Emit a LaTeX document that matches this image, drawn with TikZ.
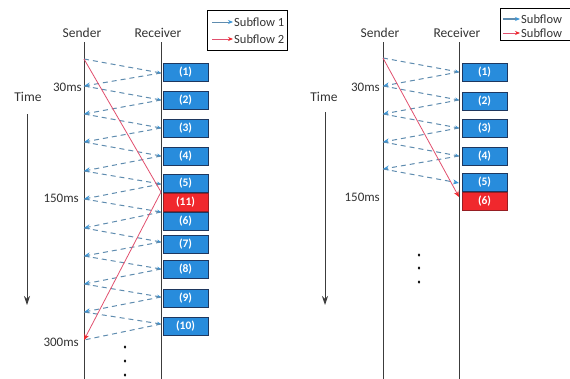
\documentclass[tikz,border=0pt]{standalone}
\usepackage{fontspec}
\setmainfont{Carlito}
\usetikzlibrary{arrows.meta}
\definecolor{flowblue}{RGB}{95,140,175}
\definecolor{tipblue}{RGB}{60,150,215}
\definecolor{boxblue}{RGB}{40,140,220}
\definecolor{boxedge}{RGB}{30,55,95}
\definecolor{boxred}{RGB}{240,40,45}
\definecolor{edgered}{RGB}{150,30,35}
\definecolor{flowred}{RGB}{225,80,110}
\definecolor{axisgray}{RGB}{60,60,60}
\tikzset{
  lifeline/.style={draw=axisgray, line width=0.9pt},
  ackflow/.style={draw=flowblue, line width=1pt, dash pattern=on 5pt off 4pt,
     -{Stealth[length=6pt,width=5pt,color=tipblue]}},
  dataflow/.style={draw=flowblue, line width=1pt, dash pattern=on 5pt off 4pt,
     -{Stealth[length=4pt,width=3.5pt,color=tipblue]}},
  redflow/.style={draw=flowred, line width=0.8pt},
  redarrow/.style={draw=flowred, line width=0.8pt, -{Stealth[length=6pt,width=5pt,color=boxred]}},
  pktbox/.style={draw=boxedge, line width=0.9pt, fill=boxblue, text=white, font=\fontsize{11.5}{13}\selectfont\bfseries,
     minimum width=45pt, minimum height=18pt, inner sep=0pt},
  pktred/.style={pktbox, fill=boxred, draw=edgered},
  lbl/.style={font=\fontsize{13.5}{15}\selectfont, text=black!80, inner sep=0pt},
  mslbl/.style={font=\fontsize{13}{15}\selectfont, text=black!80, inner sep=0pt, anchor=east},
  timearrow/.style={draw=axisgray, line width=0.9pt, -{Stealth[length=9pt,width=6pt]}},
  legbox/.style={draw=black, line width=1pt, fill=white},
  legtext/.style={font=\fontsize{12.5}{14}\selectfont, text=black!80, inner sep=0pt, anchor=west},
  dotmark/.style={ellipse, fill=black, inner sep=0pt, minimum width=2.4pt, minimum height=3.4pt}
}
\usetikzlibrary{shapes.geometric}
\begin{document}
\begin{tikzpicture}[x=1pt,y=-1pt]
\useasboundingbox (0,0) rectangle (570,378);
\clip (0,0) rectangle (570,378);
% ---------------- LEFT PANEL ----------------
\node[lbl] (lsend) at (82,33) {Sender};
\node[lbl] (lrecv) at (158,33) {Receiver};
\coordinate (LStop) at (84,42); \coordinate (LSbot) at (84,380);
\coordinate (LRtop) at (161,42); \coordinate (LRbot) at (161,380);
\draw[lifeline] (LStop) -- (LSbot);
\draw[lifeline] (LRtop) -- (LRbot);
% time
\node[lbl] (ltime) at (28,97) {Time};
\coordinate (LTa) at (27,114); \coordinate (LTb) at (27,305);
\draw[timearrow] (LTa) -- (LTb);
% ms labels
\node[mslbl] (l30) at (82,87) {30ms};
\node[mslbl] (l150) at (79,198) {150ms};
\node[mslbl] (l300) at (79,342) {300ms};
% packet boxes
\node[pktbox] (lb1) at (185.5,72) {(1)};
\node[pktbox] (lb2) at (185.5,100.5) {(2)};
\node[pktbox] (lb3) at (185.5,128.5) {(3)};
\node[pktbox] (lb4) at (185.5,156) {(4)};
\node[pktbox] (lb5) at (185.5,183) {(5)};
\node[pktred] (lb11) at (185.5,202.5) {(11)};
\node[pktbox] (lb6) at (185.5,221.5) {(6)};
\node[pktbox] (lb7) at (185.5,244) {(7)};
\node[pktbox] (lb8) at (185.5,269) {(8)};
\node[pktbox] (lb9) at (185.5,298.5) {(9)};
\node[pktbox] (lb10) at (185.5,326) {(10)};
% zigzag coordinates
\coordinate (ls0) at (84,59);  \coordinate (lr1) at (161,73);
\coordinate (ls1) at (84,86);  \coordinate (lr2) at (161,100);
\coordinate (ls2) at (84,114); \coordinate (lr3) at (161,128);
\coordinate (ls3) at (84,142); \coordinate (lr4) at (161,156);
\coordinate (ls4) at (84,171); \coordinate (lr5) at (161,184);
\coordinate (ls5) at (84,199); \coordinate (lr6) at (161,212);
\coordinate (ls6) at (84,228); \coordinate (lr7) at (161,242);
\coordinate (ls7) at (84,256); \coordinate (lr8) at (161,269);
\coordinate (ls8) at (84,284); \coordinate (lr9) at (161,297);
\coordinate (ls9) at (84,312); \coordinate (lr10) at (161,324);
\coordinate (ls10) at (84,340);
\coordinate (lr11) at (161,192);
\draw[dataflow] (ls0) -- (lr1);  \draw[ackflow] (lr1) -- (ls1);
\draw[dataflow] (ls1) -- (lr2);  \draw[ackflow] (lr2) -- (ls2);
\draw[dataflow] (ls2) -- (lr3);  \draw[ackflow] (lr3) -- (ls3);
\draw[dataflow] (ls3) -- (lr4);  \draw[ackflow] (lr4) -- (ls4);
\draw[dataflow] (ls4) -- (lr5);  \draw[ackflow] (lr5) -- (ls5);
\draw[dataflow] (ls5) -- (lr6);  \draw[ackflow] (lr6) -- (ls6);
\draw[dataflow] (ls6) -- (lr7);  \draw[ackflow] (lr7) -- (ls7);
\draw[dataflow] (ls7) -- (lr8);  \draw[ackflow] (lr8) -- (ls8);
\draw[dataflow] (ls8) -- (lr9);  \draw[ackflow] (lr9) -- (ls9);
\draw[dataflow] (ls9) -- (lr10);
\draw[draw=flowblue, line width=1pt, dash pattern=on 5pt off 4pt] (lr10) -- (ls10);
% red subflow
\draw[redflow] (ls0) -- (lr11);
\draw[redarrow] (lr11) -- (ls10);
% dots
\node[dotmark] (ld1) at (125,347) {};
\node[dotmark] (ld2) at (125,361) {};
\node[dotmark] (ld3) at (125,375) {};
% legend
\node[legbox, minimum width=80pt, minimum height=40pt, anchor=north west] (lleg) at (207,10) {};
\coordinate (lla) at (212,22); \coordinate (llb) at (233,22);
\coordinate (lma) at (212,39); \coordinate (lmb) at (233,39);
\draw[draw=flowblue, line width=0.9pt, -{Stealth[length=5pt,width=4pt,color=tipblue]}] (lla) -- (llb);
\draw[redarrow, -{Stealth[length=5pt,width=4pt,color=boxred]}] (lma) -- (lmb);
\node[legtext] (llt1) at (234,22) {Subflow 1};
\node[legtext] (llt2) at (234,39) {Subflow 2};
% ---------------- RIGHT PANEL ----------------
\node[lbl] (rsend) at (380,33) {Sender};
\node[lbl] (rrecv) at (457,33) {Receiver};
\coordinate (RStop) at (383,42); \coordinate (RSbot) at (383,380);
\coordinate (RRtop) at (459,42); \coordinate (RRbot) at (459,380);
\draw[lifeline] (RStop) -- (RSbot);
\draw[lifeline] (RRtop) -- (RRbot);
\node[lbl] (rtime) at (324,97) {Time};
\coordinate (RTa) at (325,112); \coordinate (RTb) at (325,305);
\draw[timearrow] (RTa) -- (RTb);
\node[mslbl] (r30) at (380,87) {30ms};
\node[mslbl] (r150) at (380,197) {150ms};
\node[pktbox] (rb1) at (484.5,72) {(1)};
\node[pktbox] (rb2) at (484.5,101) {(2)};
\node[pktbox] (rb3) at (484.5,128) {(3)};
\node[pktbox] (rb4) at (484.5,156.5) {(4)};
\node[pktbox] (rb5) at (484.5,182) {(5)};
\node[pktred] (rb6) at (484.5,201.5) {(6)};
\coordinate (rs0) at (383,58);  \coordinate (rr1) at (459,72);
\coordinate (rs1) at (383,86);  \coordinate (rr2) at (459,100);
\coordinate (rs2) at (383,114); \coordinate (rr3) at (459,128);
\coordinate (rs3) at (383,142); \coordinate (rr4) at (459,156);
\coordinate (rs4) at (383,169); \coordinate (rr5) at (459,183);
\coordinate (rr6) at (459,197);
\draw[dataflow] (rs0) -- (rr1);  \draw[ackflow] (rr1) -- (rs1);
\draw[dataflow] (rs1) -- (rr2);  \draw[ackflow] (rr2) -- (rs2);
\draw[dataflow] (rs2) -- (rr3);  \draw[ackflow] (rr3) -- (rs3);
\draw[dataflow] (rs3) -- (rr4);  \draw[ackflow] (rr4) -- (rs4);
\draw[ackflow] (rs4) -- (rr5);
\draw[redarrow] (rs0) -- (rr6);
\node[dotmark] (rd1) at (419,255) {};
\node[dotmark] (rd2) at (419,268) {};
\node[dotmark] (rd3) at (419,282) {};
\node[legbox, minimum width=80pt, minimum height=32pt, anchor=north west] (rleg) at (500,8) {};
\coordinate (rla) at (503,19); \coordinate (rlb) at (520,19);
\coordinate (rma) at (503,33); \coordinate (rmb) at (520,33);
\draw[draw=flowblue, line width=1.2pt, -{Stealth[length=5pt,width=4pt,color=tipblue]}] (rla) -- (rlb);
\draw[redarrow, -{Stealth[length=5pt,width=4pt,color=boxred]}] (rma) -- (rmb);
\node[legtext] (rlt1) at (521,19) {Subflow};
\node[legtext] (rlt2) at (521,33) {Subflow};
\end{tikzpicture}
\end{document}
